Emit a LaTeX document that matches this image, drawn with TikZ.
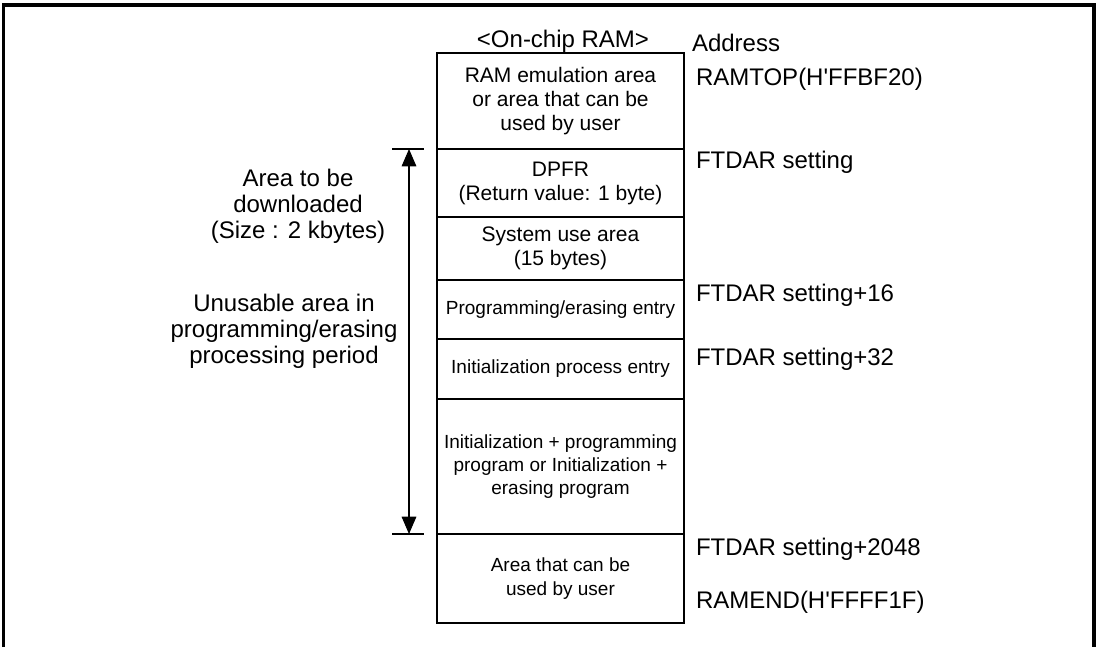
\documentclass[tikz,border=0pt]{standalone}
\usepackage{fontspec}
\newfontfamily\arial{Liberation Sans}
\usetikzlibrary{arrows.meta,positioning}
\newcommand{\addrfont}{\arial\fontsize{18}{19.5}\selectfont}
\newcommand{\cellfont}{\arial\fontsize{15.75}{18}\selectfont}
\newcommand{\smallcellfont}{\arial\fontsize{14.25}{17.5}\selectfont}
\tikzset{
  memmap/.style={x=0.75pt, y=-0.75pt, every node/.style={inner sep=0pt, outer sep=0pt}},
  cell/.style={draw, line width=0.8pt, minimum width=185.25pt, align=center, font=\cellfont},
  smallcell/.style={cell, font=\smallcellfont},
  addr/.style={anchor=base west, font=\addrfont},
  note/.style={align=center, font=\addrfont},
  dlarrow/.style={{Triangle[length=13pt,width=11pt]}-{Triangle[length=13pt,width=11pt]}, line width=0.8pt},
  dltick/.style={line width=0.8pt},
  frame/.style={line width=2.3pt}
}

\begin{document}
\begin{tikzpicture}[memmap]
\useasboundingbox (0,0) rectangle (1099,647);
\draw[frame] (3.5,647) -- (3.5,5) -- (1094,5) -- (1094,647);
% on-chip RAM map
\node[cell, minimum height=72pt, anchor=north west] (emu) at (437,53) {RAM emulation area\\or area that can be\\used by user};
\node[cell, minimum height=51pt, below=0pt of emu] (dpfr) {DPFR\\(Return value: 1 byte)};
\node[cell, minimum height=47.25pt, below=0pt of dpfr] (sys) {System use area\\(15 bytes)};
\node[smallcell, minimum height=44.25pt, below=0pt of sys] (pent) {Programming/erasing entry};
\node[smallcell, minimum height=45pt, below=0pt of pent] (ient) {Initialization process entry};
\node[smallcell, minimum height=101.25pt, below=0pt of ient] (prog) {Initialization + programming\\program or Initialization +\\erasing program};
\node[smallcell, minimum height=66.75pt, below=0pt of prog] (user) {Area that can be\\used by user};
\node[font=\addrfont, anchor=base] (title) at (563,47) {<On-chip RAM>};
% addresses
\node[addr] (addr) at (692,51) {Address};
\node[addr] (ramtop) at (696,85) {RAMTOP(H'FFBF20)};
\node[addr] (ftdar) at (696,168) {FTDAR setting};
\node[addr] (ftdar16) at (696,301) {FTDAR setting+16};
\node[addr] (ftdar32) at (696,365) {FTDAR setting+32};
\node[addr] (ftdar2k) at (696,555) {FTDAR setting+2048};
\node[addr] (ramend) at (696,608) {RAMEND(H'FFFF1F)};
% download area
\path (dpfr.north west) ++(-28,0) coordinate (dtop) ++(-17,0) coordinate (ttl) ++(32,0) coordinate (ttr);
\path (user.north west) ++(-28,0) coordinate (dbot) ++(-17,0) coordinate (btl) ++(32,0) coordinate (btr);
\draw[dltick] (ttl) -- (ttr);
\draw[dltick] (btl) -- (btr);
\draw[dlarrow] (dtop) -- (dbot);
\node[note] (dlnote) at (298,206) {Area to be\\downloaded\\(Size : 2 kbytes)};
\node[note] (busy) at (284,331) {Unusable area in\\programming/erasing\\processing period};
\end{tikzpicture}
\end{document}
